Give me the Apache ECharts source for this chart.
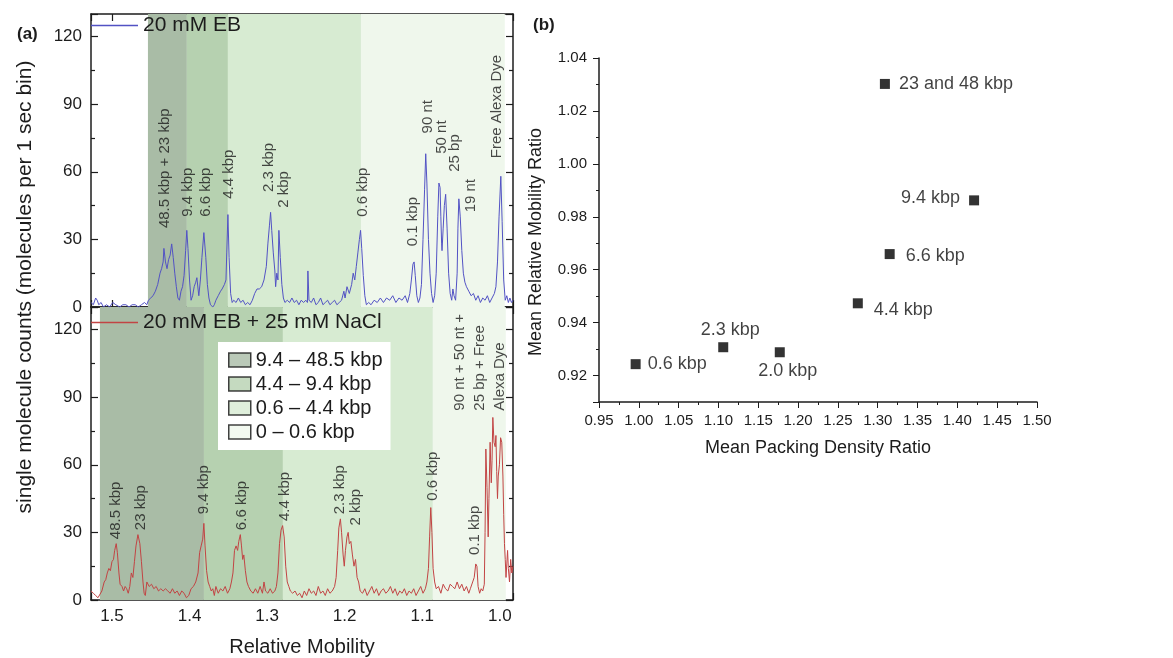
<!DOCTYPE html>
<html>
<head>
<meta charset="utf-8">
<script src="https://cdn.jsdelivr.net/npm/echarts@6/dist/echarts.min.js"></script>
<style>
html, body { margin: 0; padding: 0; background: #fff; }
#main { width: 1173px; height: 658px; }
</style>
</head>
<body>
<div id="main"></div>
<script>
// ---- panel (a): traces as [relative mobility, counts] ----
var ebTrace = [[1.527,2],[1.524,1],[1.521,4],[1.519,3],[1.517,1],[1.514,2],[1.511,0],[1.507,1],[1.503,0],[1.499,2],[1.495,1],[1.490,0],[1.486,1],[1.482,1],[1.478,0],[1.474,1],[1.470,1],[1.466,0],[1.462,1],[1.458,2],[1.455,1],[1.453,3],[1.450,4],[1.447,5],[1.444,7],[1.441,10],[1.438,15],[1.436,17],[1.434,20],[1.433,26],[1.431,20],[1.429,17],[1.427,21],[1.425,23],[1.423,28],[1.421,22],[1.419,15],[1.417,9],[1.415,4],[1.413,3],[1.411,7],[1.409,9],[1.407,14],[1.405,25],[1.4035,34],[1.402,26],[1.400,12],[1.398,3],[1.396,5],[1.394,9],[1.392,11],[1.3905,13],[1.389,8],[1.388,5],[1.386,12],[1.384,22],[1.3815,33],[1.379,22],[1.377,10],[1.375,4],[1.373,1],[1.370,0],[1.368,1],[1.366,3],[1.363,5],[1.360,7],[1.358,8],[1.355,10],[1.353,12],[1.352,24],[1.3505,41],[1.349,22],[1.347,6],[1.345,2],[1.343,3],[1.340,2],[1.337,4],[1.334,2],[1.331,3],[1.328,1],[1.325,2],[1.322,1],[1.319,3],[1.316,6],[1.313,8],[1.310,8],[1.307,9],[1.304,12],[1.301,18],[1.299,28],[1.297,36],[1.2955,42],[1.294,34],[1.292,24],[1.290,16],[1.289,9],[1.2875,15],[1.286,12],[1.2848,34],[1.283,22],[1.281,10],[1.279,4],[1.277,2],[1.274,3],[1.271,2],[1.268,4],[1.265,2],[1.262,3],[1.259,1],[1.256,3],[1.253,2],[1.250,3],[1.248,2],[1.2474,16],[1.246,3],[1.243,2],[1.240,4],[1.237,1],[1.234,2],[1.231,4],[1.228,1],[1.225,2],[1.222,3],[1.219,1],[1.216,2],[1.213,3],[1.210,1],[1.207,2],[1.204,3],[1.201,7],[1.1995,4],[1.197,9],[1.194,6],[1.191,10],[1.189,15],[1.187,12],[1.185,18],[1.183,24],[1.181,30],[1.1795,34],[1.178,26],[1.176,14],[1.174,5],[1.172,1],[1.169,2],[1.166,1],[1.162,3],[1.158,2],[1.154,4],[1.150,2],[1.146,4],[1.142,3],[1.138,5],[1.134,2],[1.130,4],[1.126,3],[1.122,5],[1.119,2],[1.116,6],[1.114,12],[1.112,19],[1.1105,20],[1.109,14],[1.107,5],[1.105,2],[1.103,4],[1.101,10],[1.099,30],[1.097,52],[1.0955,68],[1.094,55],[1.092,30],[1.090,15],[1.088,6],[1.086,2],[1.084,5],[1.082,15],[1.080,40],[1.0785,55],[1.077,53],[1.076,40],[1.075,28],[1.0745,25],[1.073,35],[1.0715,45],[1.0698,50],[1.068,35],[1.066,15],[1.064,6],[1.062,3],[1.0605,8],[1.059,5],[1.057,3],[1.055,15],[1.054,35],[1.0528,48],[1.051,40],[1.049,25],[1.047,15],[1.045,11],[1.043,9],[1.040,7],[1.037,5],[1.034,6],[1.031,3],[1.028,5],[1.025,2],[1.022,4],[1.019,3],[1.016,5],[1.013,2],[1.010,4],[1.007,6],[1.005,9],[1.003,20],[1.001,40],[0.9987,58],[0.997,38],[0.995,12],[0.993,3],[0.991,5],[0.989,2],[0.987,4],[0.985,2],[0.983,3]];

var naclTrace = [[1.527,4],[1.524,3],[1.521,2],[1.518,1],[1.5155,1],[1.513,4],[1.510,8],[1.508,9],[1.506,12],[1.504,14],[1.502,13],[1.500,17],[1.498,18],[1.4965,22],[1.4945,25],[1.493,21],[1.491,12],[1.4895,7],[1.487,6],[1.485,4],[1.483,6],[1.481,5],[1.479,3],[1.477,6],[1.475,12],[1.473,10],[1.471,17],[1.469,24],[1.4665,29],[1.464,25],[1.462,17],[1.460,8],[1.4585,3],[1.457,2],[1.455,8],[1.452,6],[1.449,7],[1.446,5],[1.443,6],[1.440,4],[1.437,5],[1.434,4],[1.431,5],[1.428,4],[1.425,3],[1.422,5],[1.419,3],[1.416,4],[1.413,2],[1.410,4],[1.407,3],[1.404,1],[1.401,2],[1.398,5],[1.395,6],[1.392,8],[1.389,12],[1.387,21],[1.385,24],[1.383,27],[1.3815,34],[1.380,24],[1.378,13],[1.376,8],[1.374,6],[1.372,4],[1.370,5],[1.368,2],[1.366,6],[1.363,3],[1.360,5],[1.357,4],[1.354,6],[1.351,3],[1.348,5],[1.346,8],[1.344,12],[1.342,22],[1.340,24],[1.338,22],[1.3365,26],[1.3345,29],[1.333,24],[1.3315,18],[1.330,20],[1.328,13],[1.326,8],[1.324,6],[1.321,4],[1.318,3],[1.315,5],[1.312,3],[1.309,6],[1.306,3],[1.304,8],[1.302,4],[1.299,3],[1.296,5],[1.293,3],[1.290,4],[1.288,6],[1.286,12],[1.284,25],[1.282,31],[1.280,33],[1.278,28],[1.276,15],[1.274,8],[1.272,6],[1.270,4],[1.267,3],[1.264,4],[1.261,2],[1.258,3],[1.255,1],[1.252,4],[1.249,2],[1.246,5],[1.243,3],[1.240,4],[1.237,2],[1.234,6],[1.231,3],[1.228,4],[1.225,2],[1.222,5],[1.219,3],[1.216,4],[1.213,6],[1.211,10],[1.209,22],[1.2075,32],[1.2055,36],[1.204,30],[1.202,20],[1.2005,15],[1.199,22],[1.197,28],[1.1955,30],[1.194,25],[1.192,26],[1.190,20],[1.188,15],[1.186,18],[1.184,10],[1.182,8],[1.180,4],[1.177,3],[1.174,5],[1.171,2],[1.168,4],[1.165,6],[1.162,3],[1.159,5],[1.156,2],[1.153,4],[1.150,5],[1.147,3],[1.144,4],[1.141,6],[1.138,3],[1.135,5],[1.132,2],[1.129,4],[1.126,3],[1.123,5],[1.120,2],[1.117,4],[1.114,3],[1.111,5],[1.108,2],[1.105,4],[1.102,6],[1.099,3],[1.096,5],[1.094,8],[1.092,14],[1.0905,28],[1.089,41],[1.0875,30],[1.086,14],[1.084,8],[1.082,5],[1.079,6],[1.076,3],[1.073,7],[1.070,5],[1.067,4],[1.064,7],[1.061,6],[1.058,5],[1.055,8],[1.052,5],[1.049,7],[1.046,4],[1.043,6],[1.040,3],[1.038,5],[1.035,8],[1.033,10],[1.031,16],[1.0295,15],[1.028,6],[1.026,3],[1.024,5],[1.022,4],[1.020,7],[1.019,30],[1.018,67],[1.0165,50],[1.015,28],[1.014,45],[1.0125,70],[1.011,52],[1.010,62],[1.009,81],[1.0075,70],[1.006,68],[1.005,73],[1.004,57],[1.003,45],[1.002,55],[1.0005,60],[0.999,72],[0.9975,70],[0.996,55],[0.995,38],[0.994,25],[0.993,18],[0.992,10],[0.991,16],[0.990,22],[0.989,14],[0.9875,8],[0.986,18],[0.9845,12],[0.983,15]];

// size-range bands (edges in relative mobility, left to right)
var bandNames = ['9.4 \u2013 48.5 kbp', '4.4 \u2013 9.4 kbp', '0.6 \u2013 4.4 kbp', '0 \u2013 0.6 kbp'];
var ebBandEdges = [1.4536, 1.4034, 1.3505, 1.179, 0.9936];
var naclBandEdges = [1.5155, 1.3814, 1.2796, 1.0863, 0.9923];

// peak annotations: [mobility, counts at the start of the text, text]
var ebPeakLabels = [
  [1.4317, 35, '48.5 kbp + 23 kbp'], [1.4021, 40, '9.4 kbp'], [1.3789, 40, '6.6 kbp'],
  [1.3492, 48, '4.4 kbp'], [1.2977, 51, '2.3 kbp'], [1.2784, 44, '2 kbp'],
  [1.1765, 40, '0.6 kbp'], [1.1121, 27, '0.1 kbp'], [1.0928, 77, '90 nt'],
  [1.0747, 68, '50 nt'], [1.0580, 60, '25 bp'], [1.0374, 42, '19 nt'],
  [1.0039, 66, 'Free Alexa Dye']
];
var naclPeakLabels = [
  [1.4948, 27, '48.5 kbp'], [1.4626, 31, '23 kbp'], [1.3814, 38, '9.4 kbp'],
  [1.3325, 31, '6.6 kbp'], [1.2771, 35, '4.4 kbp'], [1.2062, 38, '2.3 kbp'],
  [1.1856, 33, '2 kbp'], [1.0863, 44, '0.6 kbp'], [1.0322, 20, '0.1 kbp'],
  [1.0258, 84, '90 nt + 50 nt +\n25 bp + Free\nAlexa Dye']
];

// ---- panel (b) ----
var sizeNames = ['0.6 kbp', '2.3 kbp', '2.0 kbp', '4.4 kbp', '6.6 kbp', '9.4 kbp', '23 and 48 kbp'];
var packDensity = [0.996, 1.106, 1.177, 1.275, 1.315, 1.421, 1.309];
var mobilityRatio = [0.9243, 0.9307, 0.9288, 0.9473, 0.9659, 0.9862, 1.0302];

var FONT = '"Liberation Sans", Arial, sans-serif';
var INK = '#1c1c1c';
var bandColors = ['#a9bca6', '#b6d1b0', '#d7ebd2', '#eff7ec'];
var ebColor = '#5252c4';
var naclColor = '#c24444';

// where each label in (b) sits next to its point
var labelPlacement = {
  '0.6 kbp': {position: 'right', distance: 7},
  '2.3 kbp': {position: 'top', distance: 3, offset: [7, 0]},
  '2.0 kbp': {position: 'bottom', distance: 5, offset: [8, 0]},
  '4.4 kbp': {position: 'right', distance: 11, offset: [0, 7]},
  '6.6 kbp': {position: 'right', distance: 11, offset: [0, 2]},
  '9.4 kbp': {position: 'left', distance: 9, offset: [0, -2]},
  '23 and 48 kbp': {position: 'right', distance: 9}
};

function bands(edges) {
  var out = [];
  for (var i = 0; i < bandColors.length; i++) {
    out.push([{xAxis: edges[i], itemStyle: {color: bandColors[i]}}, {xAxis: edges[i + 1]}]);
  }
  return out;
}

function isStep(v, step) {
  var k = v / step;
  return Math.abs(k - Math.round(k)) < 1e-6;
}

function mobilityAxis(grid, pos, labels) {
  return {
    type: 'value', gridIndex: grid, position: pos,
    min: 0.983, max: 1.527, inverse: true,
    minInterval: 0.1, maxInterval: 0.1,
    axisLine: {onZero: false, lineStyle: {color: INK, width: 1.5}},
    axisTick: {inside: true, length: 7, lineStyle: {color: INK, width: 1.2}},
    minorTick: {show: true, splitNumber: 2, length: 4, lineStyle: {color: INK, width: 1.2}},
    splitLine: {show: false},
    axisLabel: {
      show: labels, margin: 8, fontSize: 17, color: INK, fontFamily: FONT,
      formatter: function (v) { return isStep(v, 0.1) ? v.toFixed(1) : ''; }
    },
    name: labels ? 'Relative Mobility' : '',
    nameLocation: 'middle', nameGap: 37,
    nameTextStyle: {fontSize: 20, color: INK, fontFamily: FONT}
  };
}

function countsAxis(grid, pos, labels) {
  return {
    type: 'value', gridIndex: grid, position: pos,
    min: 0, max: 130, interval: 30,
    axisLine: {onZero: false, lineStyle: {color: INK, width: 1.5}},
    axisTick: {inside: true, length: 7, lineStyle: {color: INK, width: 1.2}},
    minorTick: {show: true, splitNumber: 2, length: 4, lineStyle: {color: INK, width: 1.2}},
    splitLine: {show: false},
    axisLabel: {
      show: labels, margin: 9, fontSize: 17, color: INK, fontFamily: FONT,
      formatter: function (v) { return v > 125 ? '' : String(v); }
    }
  };
}

function peakLabelSeries(list, xi, yi) {
  return {
    type: 'scatter', xAxisIndex: xi, yAxisIndex: yi, silent: true, z: 5,
    symbolSize: 1, itemStyle: {color: 'rgba(0,0,0,0)'},
    data: list.map(function (p) { return {value: [p[0], p[1]], name: p[2]}; }),
    label: {
      show: true, position: 'inside', rotate: 90, align: 'left', verticalAlign: 'middle',
      formatter: '{b}', fontSize: 15, lineHeight: 20, color: INK, fontFamily: FONT
    }
  };
}

var chart = echarts.init(document.getElementById('main'));

var series = [
  {
    name: '20 mM EB', type: 'line', xAxisIndex: 0, yAxisIndex: 0,
    data: ebTrace, showSymbol: false, symbol: 'none', z: 3,
    lineStyle: {color: ebColor, width: 1}, itemStyle: {color: ebColor},
    markArea: {silent: true, data: bands(ebBandEdges)}
  },
  {
    name: '20 mM EB + 25 mM NaCl', type: 'line', xAxisIndex: 2, yAxisIndex: 2,
    data: naclTrace, showSymbol: false, symbol: 'none', z: 3,
    lineStyle: {color: naclColor, width: 1}, itemStyle: {color: naclColor},
    markArea: {silent: true, data: bands(naclBandEdges)}
  },
  peakLabelSeries(ebPeakLabels, 0, 0),
  peakLabelSeries(naclPeakLabels, 2, 2)
];

bandNames.forEach(function (n, i) {
  series.push({
    name: n, type: 'scatter', xAxisIndex: 2, yAxisIndex: 2, data: [],
    itemStyle: {color: bandColors[i], borderColor: '#111', borderWidth: 1.5}
  });
});

series.push({
  type: 'scatter', xAxisIndex: 4, yAxisIndex: 4, symbol: 'rect', symbolSize: 10,
  itemStyle: {color: '#000'},
  data: sizeNames.map(function (n, i) {
    var p = labelPlacement[n];
    return {
      name: n, value: [packDensity[i], mobilityRatio[i]],
      label: {position: p.position, distance: p.distance, offset: p.offset || [0, 0]}
    };
  }),
  label: {show: true, formatter: '{b}', fontSize: 18, color: '#111', fontFamily: FONT}
});

var legendText = {fontSize: 21, color: INK, fontFamily: FONT};

function lineLegend(name, color, top) {
  return {
    data: [{name: name, icon: 'rect', itemStyle: {color: color, borderWidth: 0}}],
    left: 91, top: top, padding: 0, itemWidth: 47, itemHeight: 1.6,
    itemStyle: {color: color, borderWidth: 0},
    selectedMode: false, textStyle: legendText
  };
}

var option = {
  animation: false,
  backgroundColor: '#fff',
  textStyle: {fontFamily: FONT},
  title: [
    {text: '(a)', left: 17, top: 26, padding: 0, textStyle: {fontSize: 17, fontWeight: 'bold', color: INK, fontFamily: FONT}},
    {text: '(b)', left: 533, top: 17, padding: 0, textStyle: {fontSize: 17, fontWeight: 'bold', color: INK, fontFamily: FONT}}
  ],
  legend: [
    lineLegend('20 mM EB', ebColor, 15),
    lineLegend('20 mM EB + 25 mM NaCl', naclColor, 312),
    {
      data: bandNames.map(function (n, i) {
        return {name: n, icon: 'rect', itemStyle: {color: bandColors[i], borderColor: '#111', borderWidth: 1.5}};
      }),
      orient: 'vertical', left: 218, top: 342, padding: [8, 8, 8, 10],
      itemWidth: 22, itemHeight: 14, itemGap: 4, selectedMode: false,
      backgroundColor: '#fff',
      textStyle: {fontSize: 20, color: INK, fontFamily: FONT}
    }
  ],
  graphic: [
    {
      type: 'text', x: 25, y: 287, rotation: Math.PI / 2,
      style: {text: 'single molecule counts (molecules per 1 sec bin)', fontSize: 21, fontFamily: FONT, fill: INK, align: 'center', verticalAlign: 'middle'}
    },
    {
      type: 'text', x: 536, y: 242, rotation: Math.PI / 2,
      style: {text: 'Mean Relative Mobility Ratio', fontSize: 18, fontFamily: FONT, fill: INK, align: 'center', verticalAlign: 'middle'}
    }
  ],
  grid: [
    {left: 91, top: 14, width: 422, height: 293},
    {left: 91, top: 307, width: 422, height: 295},
    {left: 599, top: 58, width: 438, height: 344}
  ],
  xAxis: [
    mobilityAxis(0, 'bottom', false),
    mobilityAxis(0, 'top', false),
    mobilityAxis(1, 'bottom', true),
    mobilityAxis(1, 'top', false),
    {
      type: 'value', gridIndex: 2, min: 0.95, max: 1.5, interval: 0.05,
      axisLine: {onZero: false, lineStyle: {color: INK, width: 1.5}},
      axisTick: {length: 6, lineStyle: {color: INK}},
      minorTick: {show: true, splitNumber: 2, length: 3, lineStyle: {color: INK}},
      splitLine: {show: false},
      axisLabel: {margin: 11, fontSize: 15, color: INK, fontFamily: FONT, formatter: function (v) { return v.toFixed(2); }},
      name: 'Mean Packing Density Ratio', nameLocation: 'middle', nameGap: 37,
      nameTextStyle: {fontSize: 18, color: INK, fontFamily: FONT}
    }
  ],
  yAxis: [
    countsAxis(0, 'left', true),
    countsAxis(0, 'right', false),
    countsAxis(1, 'left', true),
    countsAxis(1, 'right', false),
    {
      type: 'value', gridIndex: 2, min: 0.91, max: 1.04, minInterval: 0.02, maxInterval: 0.02,
      axisLine: {onZero: false, lineStyle: {color: INK, width: 1.5}},
      axisTick: {length: 6, lineStyle: {color: INK}},
      minorTick: {show: true, splitNumber: 2, length: 3, lineStyle: {color: INK}},
      splitLine: {show: false},
      axisLabel: {
        margin: 12, fontSize: 15, color: INK, fontFamily: FONT,
        formatter: function (v) { return isStep(v, 0.02) ? v.toFixed(2) : ''; }
      }
    }
  ],
  series: series
};

chart.setOption(option);
</script>
</body>
</html>
